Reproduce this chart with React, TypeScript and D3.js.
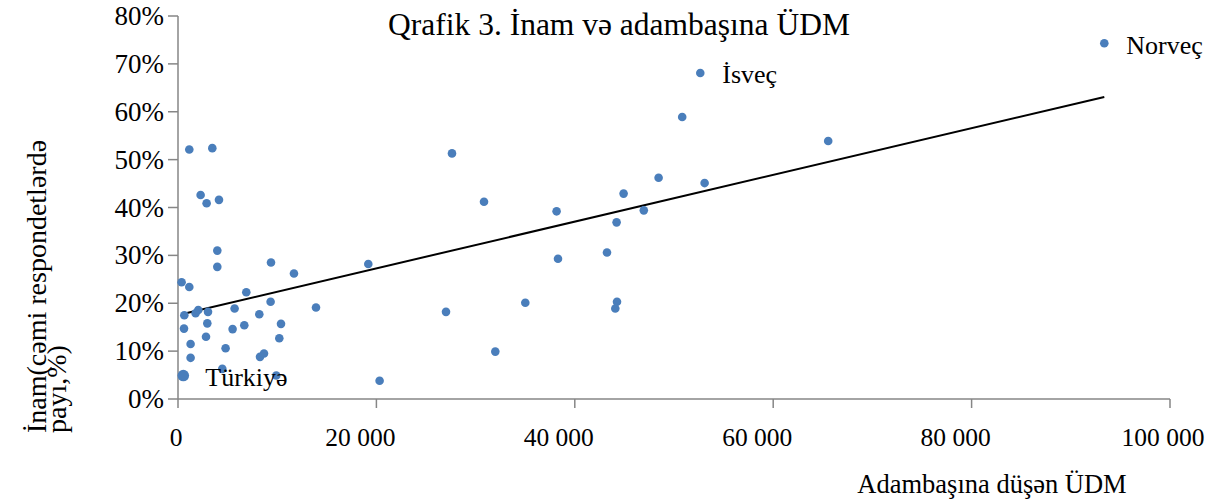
import React from 'react';
import * as d3 from 'd3';

// GDP per capita (x) and trust share, % (y)
const gdpPerCapita = [
  1139, 3458, 2280, 2886, 4130, 3962, 3962, 9375, 11690, 363,
  1139, 6885, 9335, 635, 2046, 1774, 3024, 5706, 8196, 605,
  2954, 6683, 10383, 5504, 2823, 10212, 1270, 4798, 1270, 8266,
  8669, 4466, 534, 9909, 13911, 27621, 30847, 38165, 44919, 44214,
  43245, 38306, 19183, 27016, 35010, 44254, 44083, 31986, 20323, 52650,
  50827, 65544, 48448, 53086, 46956, 93377,
];
const trustShare = [
  52.1, 52.4, 42.6, 40.9, 41.6, 31.0, 27.6, 28.5, 26.2, 24.4,
  23.4, 22.3, 20.3, 17.5, 18.6, 17.9, 18.2, 18.9, 17.7, 14.7,
  15.8, 15.4, 15.7, 14.6, 13.0, 12.7, 11.5, 10.6, 8.6, 8.8,
  9.5, 6.3, 4.9, 4.9, 19.1, 51.3, 41.2, 39.2, 42.9, 36.9,
  30.6, 29.3, 28.2, 18.2, 20.1, 20.3, 18.9, 9.9, 3.8, 68.1,
  58.9, 53.9, 46.2, 45.1, 39.4, 74.3,
];
// index of labelled countries
const labelledIdx = [32, 49, 55];
const labelNames = ['Türkiyə', 'İsveç', 'Norveç'];

// linear trend line end points
const trendGdp = [363, 93377];
const trendShare = [17.7, 63.1];

const xTicks = [0, 20000, 40000, 60000, 80000, 100000];
const yTicks = [0, 10, 20, 30, 40, 50, 60, 70, 80];

const FONT = '"Liberation Serif", "Times New Roman", serif';

const App: React.FC = () => {
  const width = 1227;
  const height = 500;

  const x = d3.scaleLinear().domain([0, 100000]).range([178, 1170]);
  const y = d3.scaleLinear().domain([0, 80]).range([399, 16]);

  const fmtX = (v: number) => d3.format(',')(v).replace(/,/g, ' ');
  const xLabelShift = (v: number) => (v === 0 ? -2 : v === 100000 ? -7 : -16);

  const trend = d3.line<number>()
    .x((_, i) => x(trendGdp[i]))
    .y((d) => y(d));

  const axisColor = '#868686';

  return (
    <svg
      width={width}
      height={height}
      style={{ position: 'absolute', left: 0, top: 0, background: '#fff' }}
    >
      <g fontFamily={FONT} fill="#000">
        {/* title */}
        <text x={619} y={35} textAnchor="middle" fontSize={31.5}>
          Qrafik 3. İnam və adambaşına ÜDM
        </text>

        {/* y axis */}
        <line x1={x(0)} x2={x(0)} y1={y(80)} y2={y(0)} stroke={axisColor} strokeWidth={1.5} />
        {yTicks.map((t) => (
          <g key={'y' + t}>
            <line x1={x(0) - 10} x2={x(0)} y1={y(t)} y2={y(t)} stroke={axisColor} strokeWidth={1.5} />
            <text
              x={164}
              y={y(t)}
              textAnchor="end"
              dominantBaseline="central"
              fontSize={27}
              fontFamily={FONT}
            >
              {t}%
            </text>
          </g>
        ))}

        {/* x axis */}
        <line x1={x(0)} x2={x(100000)} y1={y(0)} y2={y(0)} stroke={axisColor} strokeWidth={1.5} />
        {xTicks.map((t) => (
          <g key={'x' + t}>
            <line x1={x(t)} x2={x(t)} y1={y(0)} y2={y(0) + 9} stroke={axisColor} strokeWidth={1.5} />
            <text
              x={x(t) + xLabelShift(t)}
              y={446}
              textAnchor="middle"
              fontSize={25.5}
              fontFamily={FONT}
            >
              {fmtX(t)}
            </text>
          </g>
        ))}

        {/* axis titles */}
        <text x={992} y={493} textAnchor="middle" fontSize={26.5} fontFamily={FONT}>
          Adambaşına düşən ÜDM
        </text>
        <text transform="translate(46,433) rotate(-90)" fontSize={28} fontFamily={FONT}>
          İnam(cəmi respondetlərdə
        </text>
        <text transform="translate(66,433) rotate(-90)" fontSize={28} fontFamily={FONT}>
          payı,%)
        </text>

        {/* trend line */}
        <path d={trend(trendShare) || ''} fill="none" stroke="#000" strokeWidth={2} />

        {/* points */}
        {gdpPerCapita.map((g, i) => (
          <circle
            key={'p' + i}
            cx={x(g)}
            cy={y(trustShare[i])}
            r={labelledIdx[0] === i ? 5.8 : 4.3}
            fill="#4a7ebb"
          />
        ))}

        {/* data labels */}
        {labelledIdx.map((idx, j) => (
          <text
            key={'l' + j}
            x={x(gdpPerCapita[idx]) + 22}
            y={y(trustShare[idx]) + 2}
            dominantBaseline="central"
            fontSize={26}
            fontFamily={FONT}
          >
            {labelNames[j]}
          </text>
        ))}
      </g>
    </svg>
  );
};

export default App;
